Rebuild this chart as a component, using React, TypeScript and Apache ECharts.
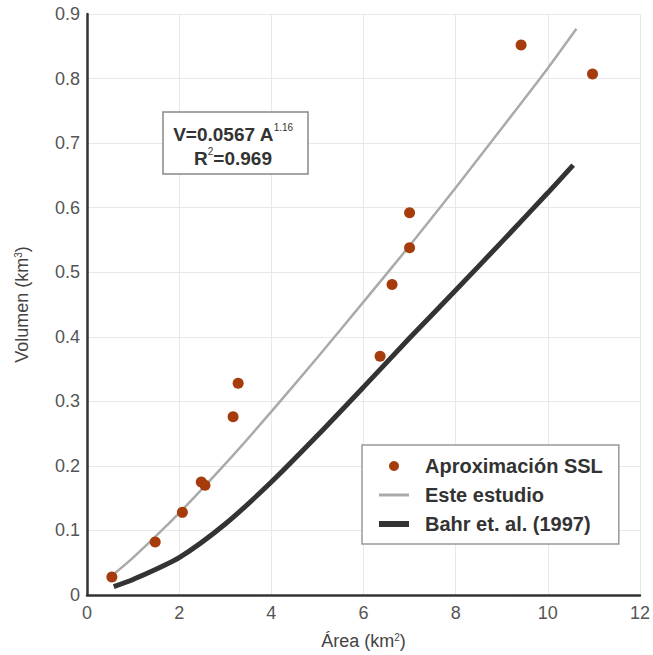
import React, { useEffect, useRef } from "react";
import * as echarts from "echarts";

const xTicks = [0, 2, 4, 6, 8, 10, 12];
const yTicks = [0, 0.1, 0.2, 0.3, 0.4, 0.5, 0.6, 0.7, 0.8, 0.9];

const sslArea = [0.54, 1.48, 2.07, 2.48, 2.56, 3.17, 3.28, 6.36, 6.62, 7.0, 7.0, 9.42, 10.97];
const sslVolume = [0.028, 0.082, 0.128, 0.175, 0.17, 0.276, 0.328, 0.37, 0.481, 0.538, 0.592, 0.852, 0.807];

const esteArea = [0.54, 1, 2, 3, 4, 5, 6, 7, 8, 9, 10, 10.62];
const esteVolume = [0.03, 0.058, 0.127, 0.203, 0.284, 0.368, 0.454, 0.541, 0.631, 0.723, 0.816, 0.877];

const bahrArea = [0.58, 1, 2, 3, 4, 5, 6, 7, 8, 9, 10, 10.55];
const bahrVolume = [0.013, 0.024, 0.058, 0.11, 0.175, 0.247, 0.322, 0.398, 0.472, 0.547, 0.623, 0.666];

const FONT = "'Liberation Sans', Arial, Helvetica, sans-serif";

export default function App() {
  const ref = useRef<HTMLDivElement>(null);
  useEffect(() => {
    if (!ref.current) return;
    const chart = echarts.init(ref.current, undefined, { renderer: "svg" });
    const zip = (a: number[], b: number[]) => a.map((v, i) => [v, b[i]]);
    const axisName = {
      a: { fontSize: 18, color: "#444", fontFamily: FONT },
      s: { fontSize: 10, color: "#444", verticalAlign: "top", fontFamily: FONT },
    };
    chart.setOption({
      animation: false,
      textStyle: { fontFamily: FONT },
      grid: { left: 87, right: 12, top: 14, bottom: 58, containLabel: false },
      xAxis: {
        type: "value",
        min: xTicks[0],
        max: xTicks[xTicks.length - 1],
        interval: 2,
        axisLine: { show: true, lineStyle: { color: "#333", width: 2.5 } },
        axisTick: { show: false },
        splitLine: { show: true, lineStyle: { color: "#e8e8e8", width: 1 } },
        axisLabel: { color: "#555", fontSize: 18, margin: 9, fontFamily: FONT },
        name: "{a|Área (km}{s|2}{a|)}",
        nameLocation: "middle",
        nameGap: 37,
        nameTextStyle: { rich: axisName },
      },
      yAxis: {
        type: "value",
        min: yTicks[0],
        max: yTicks[yTicks.length - 1],
        interval: 0.1,
        axisLine: { show: true, lineStyle: { color: "#333", width: 2.5 } },
        axisTick: { show: false },
        splitLine: { show: true, lineStyle: { color: "#e8e8e8", width: 1 } },
        axisLabel: {
          color: "#555",
          fontSize: 18,
          margin: 7,
          fontFamily: FONT,
          formatter: (v: number) => (v === 0 ? "0" : v.toFixed(1)),
        },
        name: "{a|Volumen (km}{s|3}{a|)}",
        nameLocation: "middle",
        nameGap: 56,
        nameRotate: 90,
        nameTextStyle: { rich: axisName },
      },
      legend: {
        orient: "vertical",
        left: 362,
        top: 445,
        padding: [11, 16, 10, 14],
        borderColor: "#999",
        borderWidth: 1.5,
        backgroundColor: "#fff",
        itemWidth: 30,
        itemHeight: 10,
        itemGap: 9,
        textStyle: {
          fontSize: 20,
          fontWeight: "bold",
          color: "#333",
          fontFamily: FONT,
          padding: [0, 0, 0, 11],
        },
        data: [
          { name: "Aproximación SSL", icon: "circle" },
          { name: "Este estudio", itemStyle: { opacity: 0 }, lineStyle: { width: 3, color: "#aaa" } },
          { name: "Bahr et. al. (1997)", itemStyle: { opacity: 0 }, lineStyle: { width: 6, color: "#333" } },
        ],
      },
      graphic: [
        {
          type: "rect",
          shape: { x: 163, y: 112, width: 145, height: 62 },
          style: { fill: "#fff", stroke: "#888", lineWidth: 1.5 },
          z: 100,
        },
        {
          type: "text",
          x: 233,
          y: 122,
          z: 101,
          style: {
            text: "{b|V=0.0567 A}{s|1.16}\n{b|R}{s|2}{b|=0.969}",
            align: "center",
            fontFamily: FONT,
            rich: {
              b: { fontSize: 19, fontWeight: "bold", fill: "#333", lineHeight: 24, fontFamily: FONT },
              s: { fontSize: 10, fill: "#333", verticalAlign: "top", lineHeight: 24, fontFamily: FONT },
            },
          },
        },
      ],
      series: [
        {
          name: "Bahr et. al. (1997)",
          type: "line",
          data: zip(bahrArea, bahrVolume),
          symbol: "none",
          smooth: 0.25,
          lineStyle: { color: "#333", width: 5 },
          itemStyle: { color: "#333" },
          z: 2,
        },
        {
          name: "Este estudio",
          type: "line",
          data: zip(esteArea, esteVolume),
          symbol: "none",
          smooth: 0.25,
          lineStyle: { color: "#aaa", width: 2.5 },
          itemStyle: { color: "#aaa" },
          z: 3,
        },
        {
          name: "Aproximación SSL",
          type: "scatter",
          data: zip(sslArea, sslVolume),
          symbol: "circle",
          symbolSize: 11,
          itemStyle: { color: "#a63c0c", opacity: 1 },
          z: 4,
        },
      ],
    });
    return () => chart.dispose();
  }, []);
  return (
    <div
      ref={ref}
      style={{ position: "absolute", left: 0, top: 0, width: 653, height: 655 }}
    />
  );
}
